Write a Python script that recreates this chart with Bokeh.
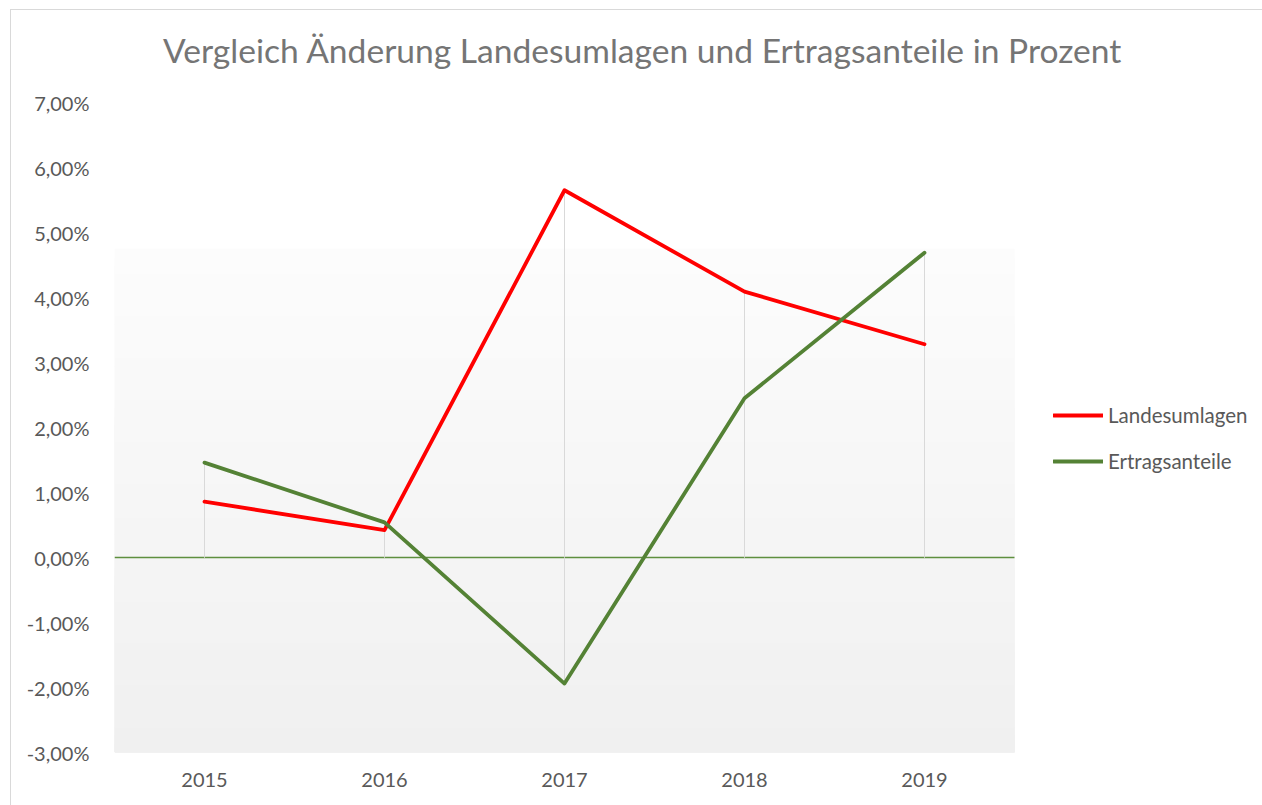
from bokeh.plotting import figure
from bokeh.layouts import column
from bokeh.models import Range1d, FixedTicker, Legend, LegendItem, BoxAnnotation, Div
from bokeh.embed import file_html
from bokeh.resources import INLINE

# ---- data ----
years = ["2015", "2016", "2017", "2018", "2019"]
landesumlagen = [0.86, 0.42, 5.65, 4.09, 3.28]
ertragsanteile = [1.46, 0.54, -1.94, 2.45, 4.69]
y_ticks = [-3, -2, -1, 0, 1, 2, 3, 4, 5, 6, 7]
y_tick_labels = {v: f"{v:.2f}".replace(".", ",") + "%" for v in y_ticks}
title_text = "Vergleich Änderung Landesumlagen und Ertragsanteile in Prozent"
series_names = ["Landesumlagen", "Ertragsanteile"]

FONT = "Lato"
LABEL_COLOR = "#595959"
RED = "#ff0000"
GREEN = "#548235"

xs = list(range(len(years)))
x_lo, x_hi = -0.5, len(years) - 0.5
frame_w = 1252 - 103
cat_px = 180.0

title_div = Div(
    text=('<div style="padding-top:20px;padding-left:152px;font-family:Lato;'
          'font-size:33.6px;line-height:40px;color:#757575;white-space:nowrap">'
          + title_text + '</div>'),
    width=1252, height=60, margin=(0, 0, 0, 0),
)

p = figure(
    width=1252, height=735,
    x_range=Range1d(x_lo, x_lo + frame_w / cat_px),
    y_range=Range1d(y_ticks[0], y_ticks[-1]),
    output_backend="svg", toolbar_location=None,
    min_border_left=103, min_border_right=0,
    min_border_top=32, min_border_bottom=53,
    margin=(0, 0, 0, 0),
)
p.outline_line_color = None
p.background_fill_color = "white"
p.border_fill_color = "white"
p.xgrid.visible = False
p.ygrid.visible = False

# gradient backdrop of the plot area (stacked, overlapping boxes)
bg_bottom = y_ticks[0]
bg_top = 4.75
n = 60
c_top = (252, 252, 252)
c_bot = (240, 240, 240)
for k in range(n):
    t = bg_top - (bg_top - bg_bottom) * k / n
    f = k / (n - 1)
    col = tuple(round(c_top[i] + (c_bot[i] - c_top[i]) * f) for i in range(3))
    p.add_layout(BoxAnnotation(left=x_lo, right=x_hi, bottom=bg_bottom, top=t,
                               fill_color="#%02x%02x%02x" % col,
                               fill_alpha=1, line_color=None, level="underlay"))

# zero (category) axis line
p.segment(x0=[x_lo], y0=[0], x1=[x_hi], y1=[0], line_color="#5e8f3e", line_width=1.6)

# drop lines
for vals in (landesumlagen, ertragsanteile):
    p.segment(x0=xs, y0=vals, x1=xs, y1=[0] * len(xs), line_color="#d9d9d9", line_width=1)

r1 = p.line(xs, landesumlagen, line_color=RED, line_width=3.8, line_join="round", line_cap="round")
r2 = p.line(xs, ertragsanteile, line_color=GREEN, line_width=3.8, line_join="round", line_cap="round")

# axes
p.yaxis.ticker = FixedTicker(ticks=y_ticks)
p.yaxis.major_label_overrides = y_tick_labels
p.xaxis.ticker = FixedTicker(ticks=xs)
p.xaxis.major_label_overrides = {i: y for i, y in zip(xs, years)}
for ax in (p.xaxis[0], p.yaxis[0]):
    ax.axis_line_color = None
    ax.major_tick_line_color = None
    ax.minor_tick_line_color = None
    ax.major_label_text_font = FONT
    ax.major_label_text_font_size = "20px"
    ax.major_label_text_color = LABEL_COLOR
p.yaxis.major_label_standoff = 19
p.xaxis.major_label_standoff = 14

legend = Legend(
    items=[LegendItem(label=series_names[0], renderers=[r1]),
           LegendItem(label=series_names[1], renderers=[r2])],
    location=(939, 279),
    label_text_font=FONT, label_text_font_size="20.5px", label_text_color=LABEL_COLOR,
    glyph_width=50, glyph_height=20, label_height=20, spacing=22,
    padding=0, margin=0, label_standoff=5,
    background_fill_alpha=0, border_line_color=None,
)
p.add_layout(legend)

layout = column(title_div, p, spacing=0)
layout.margin = (9, 0, 0, 10)
layout.styles = {"border-top": "1px solid #d9d9d9", "border-left": "1px solid #d9d9d9",
                 "background-color": "white"}

open("out.html", "w").write(file_html(layout, INLINE))
